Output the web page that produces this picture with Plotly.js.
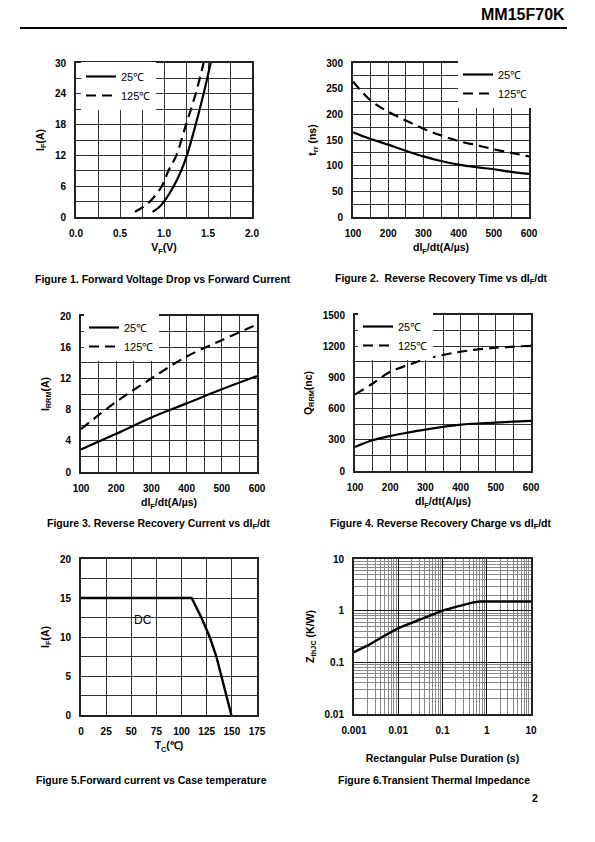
<!DOCTYPE html>
<html>
<head>
<meta charset="utf-8">
<script src="https://cdn.plot.ly/plotly-3.0.1.min.js"></script>
<style>html,body{margin:0;padding:0;background:#fff;}#chart{width:595px;height:842px;}</style>
</head>
<body>
<div id="chart"></div>
<script>
// ---------- DATA ----------
const seriesNames = ['25℃', '125℃'];

// Figure 1: Forward voltage drop vs forward current
const fig1Vf25  = [0.87, 0.95, 1.00, 1.11, 1.195, 1.26, 1.36, 1.45, 1.53];
const fig1If25  = [1, 2, 3, 6, 9, 12, 18, 24, 30];
const fig1Vf125 = [0.67, 0.765, 0.84, 0.975, 1.05, 1.14, 1.25, 1.36, 1.45];
const fig1If125 = [1, 2, 3, 6, 9, 12, 18, 24, 30];
const fig1XTicks = [0, 0.5, 1, 1.5, 2];
const fig1XTickText = ['0.0', '0.5', '1.0', '1.5', '2.0'];
const fig1YTicks = [0, 6, 12, 18, 24, 30];

// Figure 2: Reverse recovery time vs dIF/dt
const fig2Didt = [100, 150, 200, 250, 300, 350, 400, 450, 500, 550, 600];
const fig2Trr25  = [165, 152, 141, 129, 118, 109, 102, 97, 93, 88, 84];
const fig2Trr125 = [264, 227, 205, 188, 172, 159, 148, 140, 132, 125, 118];
const didtTicks = [100, 200, 300, 400, 500, 600];
const fig2YTicks = [0, 50, 100, 150, 200, 250, 300];

// Figure 3: Reverse recovery current vs dIF/dt
const fig3Didt = [100, 200, 300, 400, 500, 600];
const fig3Irrm25  = [2.9, 4.9, 7.0, 8.8, 10.6, 12.3];
const fig3Irrm125 = [5.5, 9.0, 12.0, 14.8, 16.9, 18.9];
const fig3YTicks = [0, 4, 8, 12, 16, 20];

// Figure 4: Reverse recovery charge vs dIF/dt
const fig4Didt = [100, 150, 200, 250, 300, 400, 500, 600];
const fig4Qrr25  = [231, 295, 337, 369, 398, 446, 466, 482];
const fig4Qrr125 = [735, 841, 954, 1018, 1076, 1147, 1185, 1204];
const fig4YTicks = [0, 300, 600, 900, 1200, 1500];

// Figure 5: Forward current vs case temperature
const fig5Tc = [0, 110, 119.7, 128, 134.6, 139.6, 144.6, 149.5];
const fig5If = [15, 15, 12.5, 10, 7.5, 5, 2.5, 0];
const fig5XTicks = [0, 25, 50, 75, 100, 125, 150, 175];
const fig5YTicks = [0, 5, 10, 15, 20];
const fig5Label = 'DC';

// Figure 6: Transient thermal impedance
const fig6T = [0.001, 0.002, 0.005, 0.01, 0.02, 0.05, 0.1, 0.2, 0.3, 0.5, 0.7, 1, 10];
const fig6Z = [0.157, 0.21, 0.33, 0.46, 0.58, 0.80, 1.0, 1.18, 1.3, 1.45, 1.5, 1.5, 1.5];
const fig6XTicks = [0.001, 0.01, 0.1, 1, 10];
const fig6XTickText = ['0.001', '0.01', '0.1', '1', '10'];
const fig6YTicks = [0.01, 0.1, 1, 10];
const fig6YTickText = ['0.01', '0.1', '1', '10'];

const captions = [
  'Figure 1. Forward Voltage Drop vs Forward Current',
  'Figure 2.  Reverse Recovery Time vs dI<sub>F</sub>/dt',
  'Figure 3. Reverse Recovery Current vs dI<sub>F</sub>/dt',
  'Figure 4. Reverse Recovery Charge vs dI<sub>F</sub>/dt',
  'Figure 5.Forward current vs Case temperature',
  'Figure 6.Transient Thermal Impedance'
];
const partNumber = 'MM15F70K';
const pageNumber = '2';

// ---------- LAYOUT HELPERS ----------
const W = 595, H = 842;
const FONT = 'Liberation Sans, Arial, Helvetica, sans-serif';
const px = x => x / W;
const py = y => 1 - y / H;
const GRID = '#333';

function axisBase(extra) {
  return Object.assign({
    showline: true, mirror: true, linewidth: 2, linecolor: '#222',
    showgrid: true, gridcolor: GRID, gridwidth: 1,
    zeroline: false, ticks: '', fixedrange: true,
    tickfont: {family: FONT, size: 10, color: '#000', weight: 'bold'},
    ticklabelstandoff: 6
  }, extra);
}
function titleObj(text, standoff) {
  return {text: text, font: {family: FONT, size: 10.5, color: '#000', weight: 'bold'}, standoff: standoff};
}

const solid = {color: '#000', width: 2.2};
const dashed = {color: '#000', width: 2.2, dash: '10px,6px'};

const traces = [
  {x: fig1Vf25, y: fig1If25, xaxis: 'x', yaxis: 'y', name: seriesNames[0], mode: 'lines', line: Object.assign({shape: 'spline'}, solid), legend: 'legend'},
  {x: fig1Vf125, y: fig1If125, xaxis: 'x', yaxis: 'y', name: seriesNames[1], mode: 'lines', line: Object.assign({shape: 'spline'}, dashed), legend: 'legend'},
  {x: fig2Didt, y: fig2Trr25, xaxis: 'x2', yaxis: 'y2', name: seriesNames[0], mode: 'lines', line: Object.assign({shape: 'spline'}, solid), legend: 'legend2'},
  {x: fig2Didt, y: fig2Trr125, xaxis: 'x2', yaxis: 'y2', name: seriesNames[1], mode: 'lines', line: Object.assign({shape: 'spline'}, dashed), legend: 'legend2'},
  {x: fig3Didt, y: fig3Irrm25, xaxis: 'x3', yaxis: 'y3', name: seriesNames[0], mode: 'lines', line: Object.assign({shape: 'spline'}, solid), legend: 'legend3'},
  {x: fig3Didt, y: fig3Irrm125, xaxis: 'x3', yaxis: 'y3', name: seriesNames[1], mode: 'lines', line: Object.assign({shape: 'spline'}, dashed), legend: 'legend3'},
  {x: fig4Didt, y: fig4Qrr25, xaxis: 'x4', yaxis: 'y4', name: seriesNames[0], mode: 'lines', line: Object.assign({shape: 'spline'}, solid), legend: 'legend4'},
  {x: fig4Didt, y: fig4Qrr125, xaxis: 'x4', yaxis: 'y4', name: seriesNames[1], mode: 'lines', line: Object.assign({shape: 'spline'}, dashed), legend: 'legend4'},
  {x: fig5Tc, y: fig5If, xaxis: 'x5', yaxis: 'y5', mode: 'lines', line: {color: '#000', width: 2.4}, showlegend: false},
  {x: fig6T, y: fig6Z, xaxis: 'x6', yaxis: 'y6', mode: 'lines', line: {color: '#000', width: 2.4}, showlegend: false}
];

const boxes = {
  1: {l: 76, r: 252, t: 63, b: 217},
  2: {l: 353, r: 529, t: 63, b: 217},
  3: {l: 81, r: 257, t: 316, b: 472},
  4: {l: 355, r: 531, t: 315, b: 471},
  5: {l: 81, r: 257, t: 559, b: 715},
  6: {l: 354, r: 531, t: 559, b: 714}
};
const dx = k => [px(boxes[k].l), px(boxes[k].r)];
const dy = k => [py(boxes[k].b), py(boxes[k].t)];

const legendBase = {
  bgcolor: '#fff', borderwidth: 0, font: {family: FONT, size: 11, color: '#000'},
  xanchor: 'left', yanchor: 'top', itemwidth: 30, tracegroupgap: 0, itemclick: false, itemdoubleclick: false
};

const layout = {
  width: W, height: H,
  margin: {l: 0, r: 0, t: 0, b: 0},
  paper_bgcolor: '#fff', plot_bgcolor: '#fff',
  font: {family: FONT, color: '#000'},
  showlegend: true,
  legend:  Object.assign({x: px(81),  y: py(62)}, legendBase),
  legend2: Object.assign({x: px(458), y: py(60)}, legendBase),
  legend3: Object.assign({x: px(84),  y: py(313)}, legendBase),
  legend4: Object.assign({x: px(358), y: py(312)}, legendBase),

  xaxis: axisBase({domain: dx(1), anchor: 'y', range: [0, 2], tickmode: 'array', tickvals: fig1XTicks, ticktext: fig1XTickText,
    minor: {dtick: 0.25, tick0: 0, showgrid: true, gridcolor: GRID, gridwidth: 1}, title: titleObj('V<sub>F</sub>(V)', 6)}),
  yaxis: axisBase({domain: dy(1), anchor: 'x', range: [0, 30], tickmode: 'array', tickvals: fig1YTicks,
    minor: {dtick: 3, tick0: 0, showgrid: true, gridcolor: GRID, gridwidth: 1}, title: titleObj('I<sub>F</sub>(A)', 8)}),

  xaxis2: axisBase({domain: dx(2), anchor: 'y2', range: [100, 600], tickmode: 'array', tickvals: didtTicks,
    minor: {dtick: 50, tick0: 100, showgrid: true, gridcolor: GRID, gridwidth: 1}, title: titleObj('dI<sub>F</sub>/dt(A/µs)', 6)}),
  yaxis2: axisBase({domain: dy(2), anchor: 'x2', range: [0, 300], tickmode: 'array', tickvals: fig2YTicks,
    minor: {dtick: 25, tick0: 0, showgrid: true, gridcolor: GRID, gridwidth: 1}, title: titleObj('t<sub>rr</sub> (ns)', 8)}),

  xaxis3: axisBase({domain: dx(3), anchor: 'y3', range: [100, 600], tickmode: 'array', tickvals: didtTicks,
    minor: {dtick: 50, tick0: 100, showgrid: true, gridcolor: GRID, gridwidth: 1}, title: titleObj('dI<sub>F</sub>/dt(A/µs)', 6)}),
  yaxis3: axisBase({domain: dy(3), anchor: 'x3', range: [0, 20], tickmode: 'array', tickvals: fig3YTicks,
    minor: {dtick: 2, tick0: 0, showgrid: true, gridcolor: GRID, gridwidth: 1}, title: titleObj('I<sub>RRM</sub>(A)', 8)}),

  xaxis4: axisBase({domain: dx(4), anchor: 'y4', range: [100, 600], tickmode: 'array', tickvals: didtTicks,
    minor: {dtick: 50, tick0: 100, showgrid: true, gridcolor: GRID, gridwidth: 1}, title: titleObj('dI<sub>F</sub>/dt(A/µs)', 6)}),
  yaxis4: axisBase({domain: dy(4), anchor: 'x4', range: [0, 1500], tickmode: 'array', tickvals: fig4YTicks,
    minor: {dtick: 150, tick0: 0, showgrid: true, gridcolor: GRID, gridwidth: 1}, title: titleObj('Q<sub>RRM</sub>(nc)', 8)}),

  xaxis5: axisBase({domain: dx(5), anchor: 'y5', range: [0, 175], tickmode: 'array', tickvals: fig5XTicks,
    title: titleObj('T<sub>C</sub>(℃)', 6)}),
  yaxis5: axisBase({domain: dy(5), anchor: 'x5', range: [0, 20], tickmode: 'array', tickvals: fig5YTicks,
    minor: {dtick: 2.5, tick0: 0, showgrid: true, gridcolor: GRID, gridwidth: 1}, title: titleObj('I<sub>F</sub>(A)', 8)}),

  xaxis6: axisBase({domain: dx(6), anchor: 'y6', type: 'log', range: [-3, 1], tickmode: 'array', tickvals: fig6XTicks, ticktext: fig6XTickText,
    gridcolor: '#111', minor: {dtick: 'D1', showgrid: true, gridcolor: '#888', gridwidth: 1},
    title: titleObj('Rectangular Pulse Duration (s)', 20)}),
  yaxis6: axisBase({domain: dy(6), anchor: 'x6', type: 'log', range: [-2, 1], tickmode: 'array', tickvals: fig6YTicks, ticktext: fig6YTickText,
    gridcolor: '#111', minor: {dtick: 'D1', showgrid: true, gridcolor: '#888', gridwidth: 1},
    title: titleObj('Z<sub>thJC</sub> (K/W)', 8)}),

  shapes: [
    {type: 'line', xref: 'paper', yref: 'paper', x0: px(20), x1: px(567), y0: py(28), y1: py(28), line: {color: '#000', width: 2}}
  ],
  annotations: [
    {text: partNumber, xref: 'paper', yref: 'paper', x: px(567), y: py(14), xanchor: 'right', yanchor: 'middle', showarrow: false,
      font: {family: FONT, size: 16, weight: 'bold', color: '#000'}},
    {text: pageNumber, xref: 'paper', yref: 'paper', x: px(540), y: py(798), xanchor: 'right', yanchor: 'middle', showarrow: false,
      font: {family: FONT, size: 10.5, weight: 'bold', color: '#000'}},
    {text: fig5Label, xref: 'x5', yref: 'y5', x: 62, y: 12.2, showarrow: false,
      font: {family: FONT, size: 12, color: '#000'}},
    {text: captions[0], xref: 'paper', yref: 'paper', x: px(163), y: py(279), xanchor: 'center', yanchor: 'middle', showarrow: false, font: {family: FONT, size: 10.5, weight: 'bold', color: '#000'}},
    {text: captions[1], xref: 'paper', yref: 'paper', x: px(441), y: py(279), xanchor: 'center', yanchor: 'middle', showarrow: false, font: {family: FONT, size: 10.5, weight: 'bold', color: '#000'}},
    {text: captions[2], xref: 'paper', yref: 'paper', x: px(158), y: py(524), xanchor: 'center', yanchor: 'middle', showarrow: false, font: {family: FONT, size: 10.5, weight: 'bold', color: '#000'}},
    {text: captions[3], xref: 'paper', yref: 'paper', x: px(441), y: py(524), xanchor: 'center', yanchor: 'middle', showarrow: false, font: {family: FONT, size: 10.5, weight: 'bold', color: '#000'}},
    {text: captions[4], xref: 'paper', yref: 'paper', x: px(151), y: py(780), xanchor: 'center', yanchor: 'middle', showarrow: false, font: {family: FONT, size: 10.5, weight: 'bold', color: '#000'}},
    {text: captions[5], xref: 'paper', yref: 'paper', x: px(434), y: py(780), xanchor: 'center', yanchor: 'middle', showarrow: false, font: {family: FONT, size: 10.5, weight: 'bold', color: '#000'}}
  ]
};

Plotly.newPlot('chart', traces, layout, {staticPlot: true, displayModeBar: false});
</script>
</body>
</html>
